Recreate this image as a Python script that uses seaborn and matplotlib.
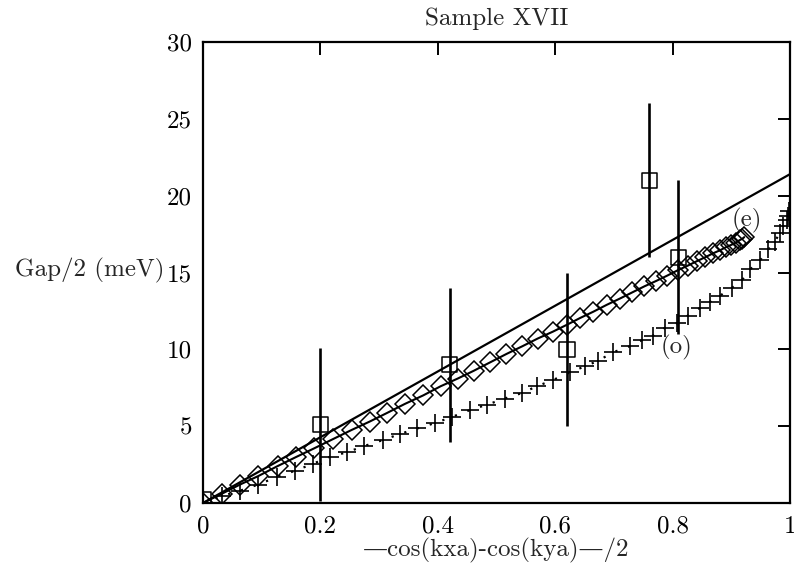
import matplotlib
matplotlib.use("Agg")
import matplotlib.pyplot as plt
import seaborn as sns
import numpy as np

# ---- data ----
# straight reference line
line_x = [0.0, 1.0]
line_y = [0.0, 21.4]

# (e) series: diamonds with solid line
e_x = [0.0, 0.032, 0.063, 0.094, 0.127, 0.159, 0.189, 0.221, 0.253, 0.284,
       0.313, 0.344, 0.375, 0.405, 0.434, 0.461, 0.489, 0.517, 0.544, 0.570,
       0.596, 0.620, 0.643, 0.665, 0.688, 0.710, 0.731, 0.752, 0.772, 0.791,
       0.809, 0.826, 0.842, 0.856, 0.869, 0.881, 0.891, 0.900, 0.908, 0.914,
       0.919, 0.922]
e_y = [0.0, 0.6, 1.2, 1.75, 2.4, 3.0, 3.55, 4.15, 4.75, 5.3,
       5.85, 6.45, 7.0, 7.6, 8.1, 8.6, 9.15, 9.7, 10.2, 10.7,
       11.15, 11.6, 12.05, 12.45, 12.9, 13.3, 13.7, 14.1, 14.45, 14.8,
       15.15, 15.45, 15.75, 16.0, 16.25, 16.45, 16.65, 16.8, 16.95, 17.1,
       17.2, 17.3]

# (o) series: plus markers with dotted line
o_x = [0.0, 0.032, 0.063, 0.094, 0.126, 0.157, 0.187, 0.216, 0.245, 0.274,
       0.307, 0.336, 0.365, 0.395, 0.424, 0.455, 0.484, 0.514, 0.543, 0.569,
       0.596, 0.625, 0.651, 0.673, 0.698, 0.727, 0.748, 0.767, 0.787, 0.807,
       0.826, 0.847, 0.864, 0.881, 0.901, 0.918, 0.932, 0.949, 0.963, 0.974,
       0.983, 0.988, 0.995, 0.997, 0.999]
o_y = [0.0, 0.45, 0.8, 1.2, 1.7, 2.1, 2.55, 3.0, 3.3, 3.7,
       4.1, 4.5, 4.85, 5.2, 5.6, 6.05, 6.4, 6.8, 7.15, 7.6,
       8.0, 8.5, 8.9, 9.25, 9.8, 10.2, 10.6, 10.9, 11.4, 11.7,
       12.2, 12.7, 13.1, 13.5, 14.0, 14.5, 15.2, 15.8, 16.5, 17.0,
       17.6, 18.0, 18.4, 18.7, 19.0]

# measured points with error bars (squares)
m_x = [0.0, 0.2, 0.42, 0.62, 0.76, 0.81]
m_y = [0.2, 5.1, 9.0, 10.0, 21.0, 16.0]
m_err = [0.0, 5.0, 5.0, 5.0, 5.0, 5.0]

x_ticks = [0, 0.2, 0.4, 0.6, 0.8, 1]
x_ticklabels = ["0", "0.2", "0.4", "0.6", "0.8", "1"]
y_ticks = [0, 5, 10, 15, 20, 25, 30]
y_ticklabels = ["0", "5", "10", "15", "20", "25", "30"]

title = "Sample XVII"
xlabel = "—cos(kxa)-cos(kya)—/2"
ylabel = "Gap/2 (meV)"

# ---- style ----
sns.set_style("white")
plt.rcParams['font.family'] = ['cmr10', 'DejaVu Serif']
plt.rcParams['axes.formatter.use_mathtext'] = True
FS = 18

fig = plt.figure(figsize=(7.94, 5.77), dpi=100)
ax = fig.add_axes([203/794, 1 - 503/577, 587/794, 461/577])

sns.lineplot(x=line_x, y=line_y, ax=ax, color="black", lw=1.6,
             estimator=None, sort=False)
sns.lineplot(x=e_x, y=e_y, ax=ax, color="black", lw=1.5,
             marker="D", ms=10.5, mfc="none", mec="black", mew=1.1,
             estimator=None, sort=False)
sns.lineplot(x=o_x, y=o_y, ax=ax, color="black", lw=1.6,
             linestyle=(0, (1, 5)),
             marker="+", ms=13, mew=1.2, mec="black",
             estimator=None, sort=False)
ax.errorbar(m_x, m_y, yerr=m_err, fmt="none", ecolor="black",
            elinewidth=1.9, capsize=0)
sns.scatterplot(x=m_x, y=m_y, ax=ax, marker="s", s=120,
                facecolor="none", edgecolor="black", linewidth=1.1,
                zorder=5)

ax.text(0.927, 18.4, "(e)", fontsize=FS, ha="center", va="center")
ax.text(0.807, 10.15, "(o)", fontsize=FS, ha="center", va="center")

ax.set_xlim(0, 1)
ax.set_ylim(0, 30)
ax.set_xticks(x_ticks)
ax.set_xticklabels(x_ticklabels, fontsize=FS)
ax.set_yticks(y_ticks)
ax.set_yticklabels(y_ticklabels, fontsize=FS)
ax.tick_params(direction="in", length=9, width=1.4, top=True, right=True,
               colors="black")
ax.tick_params(axis="x", pad=9)
ax.tick_params(axis="y", pad=8)
for sp in ax.spines.values():
    sp.set_linewidth(1.6)
    sp.set_color("black")

ax.set_title(title, fontsize=FS, pad=12)
ax.set_xlabel(xlabel, fontsize=FS, labelpad=0)
ax.set_ylabel(ylabel, fontsize=FS, rotation=0, ha="right", va="center")
ax.yaxis.set_label_coords(-0.066, 0.505)

fig.savefig("out.png", dpi=100)
